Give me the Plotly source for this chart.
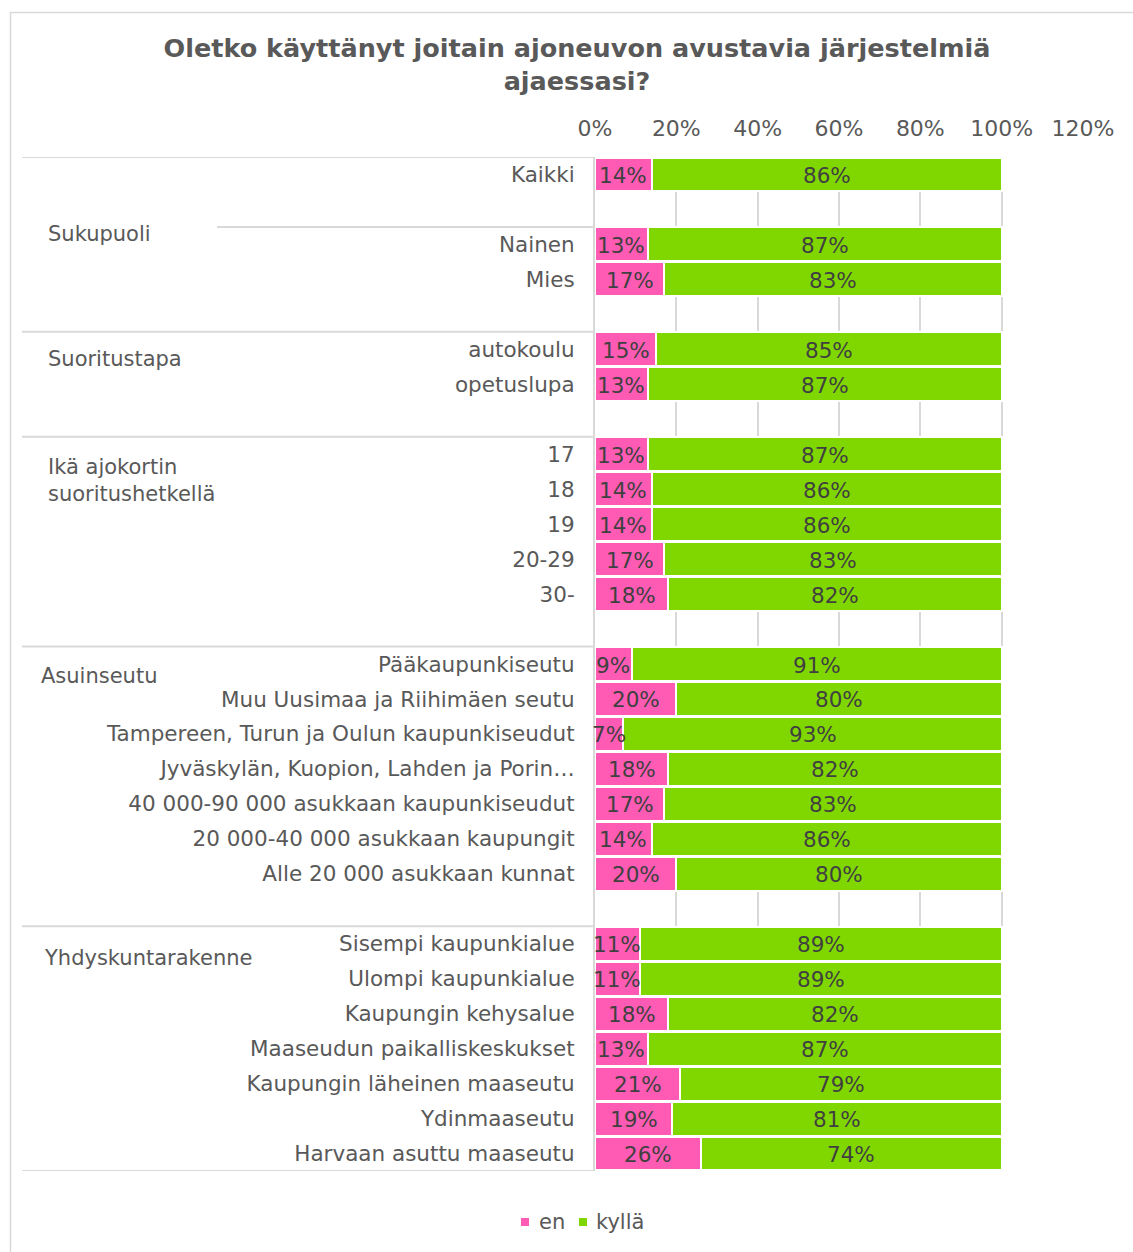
import plotly.graph_objects as go

# ---- data ----
group_names = ["", "Sukupuoli", "Suoritustapa", "Ikä ajokortin<br>suoritushetkellä",
               "Asuinseutu", "Yhdyskuntarakenne"]
group_items = [
    ["Kaikki"],
    ["Nainen", "Mies"],
    ["autokoulu", "opetuslupa"],
    ["17", "18", "19", "20-29", "30-"],
    ["Pääkaupunkiseutu", "Muu Uusimaa ja Riihimäen seutu",
     "Tampereen, Turun ja Oulun kaupunkiseudut", "Jyväskylän, Kuopion, Lahden ja Porin…",
     "40 000-90 000 asukkaan kaupunkiseudut", "20 000-40 000 asukkaan kaupungit",
     "Alle 20 000 asukkaan kunnat"],
    ["Sisempi kaupunkialue", "Ulompi kaupunkialue", "Kaupungin kehysalue",
     "Maaseudun paikalliskeskukset", "Kaupungin läheinen maaseutu", "Ydinmaaseutu",
     "Harvaan asuttu maaseutu"],
]
en_values = [
    [14],
    [13, 17],
    [15, 13],
    [13, 14, 14, 17, 18],
    [9, 20, 7, 18, 17, 14, 20],
    [11, 11, 18, 13, 21, 19, 26],
]
kylla_values = [
    [86],
    [87, 83],
    [85, 87],
    [87, 86, 86, 83, 82],
    [91, 80, 93, 82, 83, 86, 80],
    [89, 89, 82, 87, 79, 81, 74],
]
x_ticks = [0, 20, 40, 60, 80, 100, 120]
series_names = ["en", "kyllä"]

# ---- build rows (blank spacer row after every group except last) ----
ypos, labels, en, ky, group_start = [], [], [], [], []
r = 0
for gi, items in enumerate(group_items):
    group_start.append(r - 0.5)
    for j, it in enumerate(items):
        ypos.append(r); labels.append(it)
        en.append(en_values[gi][j]); ky.append(kylla_values[gi][j])
        r += 1
    if gi < len(group_items) - 1:
        r += 1
n_rows = r
group_start.append(n_rows - 0.5)

PINK = "#FF5BB4"
GREEN = "#80D700"
TXT = "#595959"
LBL = "#404040"
FONT = "DejaVu Sans"
GRID = "#D9D9D9"
COLORS = [PINK, GREEN]

W, H = 1133, 1252
L, R, T, B = 595, 50, 157, 81
PW, PH = W - L - R, H - T - B

def xp(px):
    return (px - L) / PW

def yp(py):
    return (H - B - py) / PH

fig = go.Figure()
for name, vals, col in zip(series_names, [en, ky], COLORS):
    fig.add_trace(go.Bar(y=ypos, x=vals, orientation="h", name=name,
                         marker=dict(color=col, line=dict(color="white", width=2)),
                         width=0.97, hoverinfo="x+y"))

# value labels, centred on each segment, drawn above all bars
starts = [[0] * len(en), en]
for vals, st in zip([en, ky], starts):
    for y, v, s in zip(ypos, vals, st):
        fig.add_annotation(x=s + v / 2, y=y, xref="x", yref="y", text=f"{v}%",
                           showarrow=False, xanchor="center", yanchor="middle", yshift=-1,
                           font=dict(size=21.5, color=LBL, family=FONT))

shapes = []
# outer frame
shapes.append(dict(type="rect", xref="paper", yref="paper",
                   x0=xp(10.5), x1=xp(1140), y0=yp(12.5), y1=yp(1260),
                   line=dict(color=GRID, width=1.5), fillcolor="rgba(0,0,0,0)", layer="below"))
# group separator lines
for k, g in enumerate(group_start):
    x_start = 217 if k == 1 else 22
    shapes.append(dict(type="line", xref="paper", yref="y",
                       x0=xp(x_start), x1=0, y0=g, y1=g,
                       line=dict(color=GRID, width=2)))

# legend (drawn manually for exact spacing)
legend_sq_x = [521, 579]
legend_txt_x = [537, 594]
legend_y = 1222
for name, col, sx, tx in zip(series_names, COLORS, legend_sq_x, legend_txt_x):
    shapes.append(dict(type="rect", xref="paper", yref="paper",
                       x0=xp(sx), x1=xp(sx + 8), y0=yp(legend_y - 4), y1=yp(legend_y + 4),
                       line=dict(width=0), fillcolor=col))
    fig.add_annotation(text=name, xref="paper", yref="paper", x=xp(tx), y=yp(legend_y),
                       xanchor="left", yanchor="middle", showarrow=False,
                       font=dict(size=21, color=TXT, family=FONT))
fig.update_layout(shapes=shapes)

# group labels
group_label_pos = [None, (46, 234), (46, 359), (46, 481), (39, 676), (42, 958)]
for name, pos in zip(group_names, group_label_pos):
    if pos is None:
        continue
    fig.add_annotation(text=name, xref="paper", yref="paper", x=xp(pos[0]), y=yp(pos[1]),
                       xanchor="left", yanchor="middle", align="left", showarrow=False,
                       font=dict(size=21, color=TXT, family=FONT))

fig.update_layout(
    width=W, height=H,
    margin=dict(l=L, r=R, t=T, b=B, pad=0),
    barmode="stack", bargap=0,
    plot_bgcolor="white", paper_bgcolor="white",
    font=dict(family=FONT, color=TXT, size=21),
    title=dict(text="<b>Oletko käyttänyt joitain ajoneuvon avustavia järjestelmiä<br>ajaessasi?</b>",
               x=577 / W, xanchor="center", xref="container",
               y=1 - 57 / H, yanchor="middle",
               font=dict(size=25.5, color=TXT, family=FONT)),
    xaxis=dict(side="top", range=[0, 120], tickvals=x_ticks,
               ticktext=[f"{t}%" for t in x_ticks],
               showgrid=True, gridcolor=GRID, gridwidth=2,
               zeroline=False, showline=False, ticks="",
               tickfont=dict(size=22, color=TXT, family=FONT), ticklabelstandoff=16,
               fixedrange=True),
    yaxis=dict(range=[n_rows - 0.5, -0.5], tickvals=ypos, ticktext=labels,
               showgrid=False, zeroline=False, showline=True, linecolor=GRID, linewidth=2,
               ticks="", ticklabelstandoff=14,
               tickfont=dict(size=21.5, color=TXT, family=FONT), fixedrange=True),
    showlegend=False,
)

fig.write_html("out.html", config={"displayModeBar": False},
               post_script="document.body.style.margin='0px';")
